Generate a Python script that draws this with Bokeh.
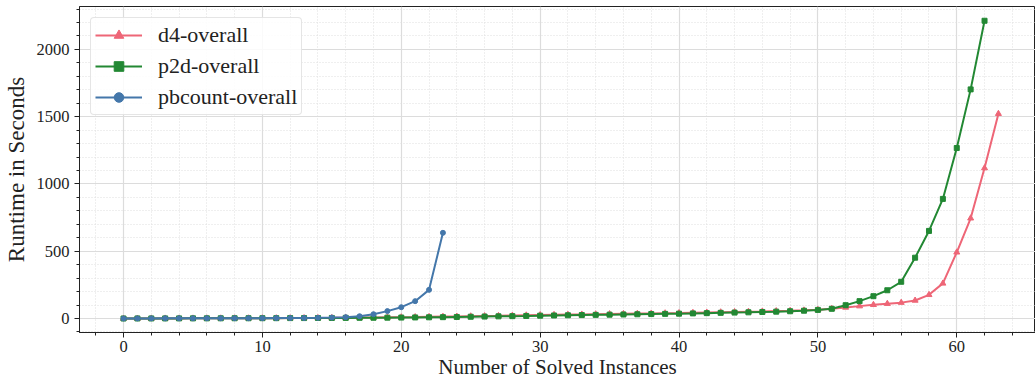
from bokeh.plotting import figure
from bokeh.models import Range1d, FixedTicker, Legend, LegendItem
from bokeh.embed import file_html
from bokeh.resources import INLINE

# ---- data ----
d4_overall = [0, 0.3, 0.5, 0.7, 0.9, 1.1, 1.3, 1.5, 1.8, 2.0,
              2.3, 2.7, 3.1, 3.6, 4.2, 4.9, 5.7, 6.6, 7.6, 8.7,
              9.9, 11, 12.5, 14, 15.5, 17, 18.5, 20, 22, 24,
              26, 27.5, 29, 30.5, 32, 33.5, 35, 36.5, 38, 39.5,
              41, 43, 45, 47, 49, 51, 53, 55.5, 58, 61,
              65, 73, 82, 92, 102, 110, 118, 134, 176, 261,
              492, 745, 1118, 1522]
p2d_overall = [0, 0.3, 0.5, 0.7, 0.9, 1.1, 1.3, 1.5, 1.8, 2.0,
               2.3, 2.6, 3.0, 3.3, 3.7, 4.1, 4.6, 5.1, 5.7, 6.3,
               7, 8, 9, 10, 11.5, 13, 14.5, 16, 17.5, 19,
               21, 22.5, 24, 25.5, 27, 28.5, 30, 31.5, 33, 34.5,
               36, 38, 40, 42, 44, 46, 48.5, 51, 54, 58,
               64, 72, 99, 129, 166, 210, 273, 452, 651, 889,
               1267, 1703, 2213]
pbcount_overall = [0, 0.5, 0.8, 1, 1.2, 1.4, 1.6, 1.8, 2, 2.3,
                   2.6, 3, 3.5, 4, 5, 7, 10, 17, 32, 55,
                   84, 129, 213, 637]

series_names = ["d4-overall", "p2d-overall", "pbcount-overall"]
x_major_ticks = [0, 10, 20, 30, 40, 50, 60]
x_minor_ticks = list(range(-2, 66, 2))
y_major_ticks = [0, 500, 1000, 1500, 2000]
y_minor_ticks = list(range(-100, 2400, 100))

FONT = "Liberation Serif"

p = figure(frame_width=956, frame_height=326, output_backend="svg",
           toolbar_location=None, min_border_left=72, min_border_right=0,
           min_border_top=0, min_border_bottom=10,
           x_range=Range1d(-3.17, 65.67), y_range=Range1d(-104, 2319))
p.styles = {"margin-top": "6px"}
p.background_fill_color = "white"
p.outline_line_color = "#222222"
p.outline_line_width = 1

# axes
for ax in (p.xaxis[0], p.yaxis[0]):
    ax.axis_line_color = "#222222"
    ax.major_tick_line_color = "#222222"
    ax.minor_tick_line_color = "#222222"
    ax.major_tick_out = 5
    ax.major_tick_in = 0
    ax.minor_tick_out = 3
    ax.minor_tick_in = 0
    ax.major_label_text_font = FONT
    ax.major_label_text_font_size = "16.5px"
    ax.major_label_text_color = "#222222"
    ax.axis_label_text_font = FONT
    ax.axis_label_text_font_style = "normal"
    ax.axis_label_text_color = "#222222"

p.yaxis.axis_label_text_font_size = "23px"
p.yaxis.major_label_standoff = 5
p.yaxis.axis_label_standoff = 5
p.xaxis.axis_label_text_font_size = "21px"
p.xaxis.major_label_standoff = 3
p.xaxis.axis_label_standoff = 0

p.xaxis.ticker = FixedTicker(ticks=x_major_ticks, minor_ticks=x_minor_ticks)
p.yaxis.ticker = FixedTicker(ticks=y_major_ticks, minor_ticks=y_minor_ticks)
p.xaxis.axis_label = "Number of Solved Instances"
p.yaxis.axis_label = "Runtime in Seconds"

# grids
for g in (p.xgrid[0], p.ygrid[0]):
    g.grid_line_color = "#dcdcdc"
    g.grid_line_width = 1.2
    g.minor_grid_line_color = "#dedede"
    g.minor_grid_line_dash = "1 2"
    g.minor_grid_line_width = 1

colors = ["#EE6677", "#228833", "#4477AA"]
datas = [d4_overall, p2d_overall, pbcount_overall]
markers = ["triangle", "square", "circle"]
msizes = [6, 5, 5]

items = []
for name, data, c, m, s in zip(series_names, datas, colors, markers, msizes):
    xs = list(range(len(data)))
    r1 = p.line(xs, data, line_color=c, line_width=2)
    r2 = p.scatter(xs, data, marker=m, size=s, fill_color=c, line_color=c)
    items.append(LegendItem(label=name, renderers=[r1, r2]))

legend = Legend(items=items, location="top_left")
legend.margin = 11
legend.padding = 4
legend.spacing = 5
legend.glyph_height = 24
legend.glyph_width = 47
legend.label_standoff = 16
legend.label_text_font = FONT
legend.label_text_font_size = "22px"
legend.label_text_color = "#222222"
legend.border_line_color = "#cccccc"
legend.border_line_width = 1
legend.background_fill_alpha = 0.85
if hasattr(legend, "border_radius"):
    legend.border_radius = 4
p.add_layout(legend, "center")

open("out.html", "w").write(file_html(p, INLINE))
